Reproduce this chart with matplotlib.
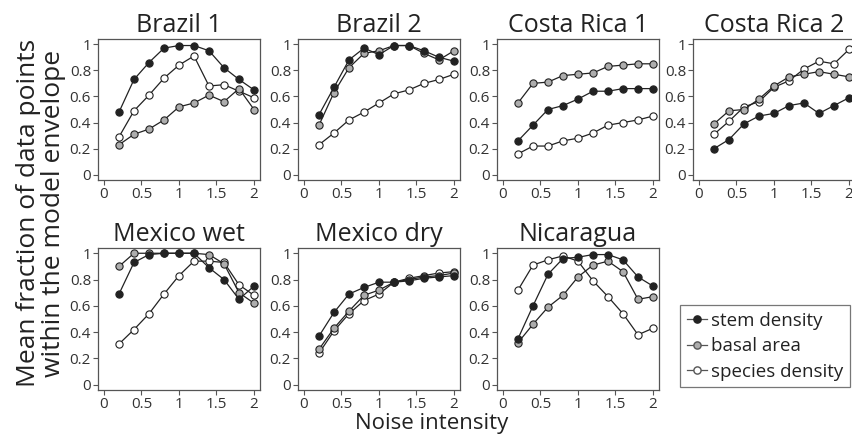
import matplotlib.pyplot as plt
import numpy as np

plt.rcParams['font.family'] = ['Open Sans', 'DejaVu Sans']

# noise intensity levels
noise = [0.2, 0.4, 0.6, 0.8, 1.0, 1.2, 1.4, 1.6, 1.8, 2.0]

sites = ["Brazil 1", "Brazil 2", "Costa Rica 1", "Costa Rica 2",
         "Mexico wet", "Mexico dry", "Nicaragua"]

stem = [
    [0.48, 0.73, 0.86, 0.97, 0.99, 0.99, 0.95, 0.82, 0.73, 0.65],
    [0.46, 0.67, 0.88, 0.97, 0.92, 0.99, 0.99, 0.95, 0.90, 0.87],
    [0.26, 0.38, 0.50, 0.53, 0.58, 0.64, 0.64, 0.66, 0.66, 0.66],
    [0.20, 0.27, 0.39, 0.45, 0.47, 0.53, 0.55, 0.47, 0.53, 0.59],
    [0.69, 0.93, 0.99, 1.00, 1.00, 1.00, 0.89, 0.80, 0.65, 0.75],
    [0.37, 0.55, 0.69, 0.74, 0.78, 0.78, 0.79, 0.81, 0.82, 0.83],
    [0.35, 0.60, 0.84, 0.96, 0.97, 0.99, 0.99, 0.95, 0.82, 0.75],
]
basal = [
    [0.23, 0.31, 0.35, 0.42, 0.52, 0.55, 0.61, 0.56, 0.66, 0.50],
    [0.38, 0.63, 0.82, 0.93, 0.95, 0.99, 0.99, 0.93, 0.88, 0.95],
    [0.55, 0.70, 0.71, 0.76, 0.77, 0.78, 0.83, 0.84, 0.85, 0.85],
    [0.39, 0.49, 0.50, 0.58, 0.68, 0.75, 0.77, 0.79, 0.77, 0.75],
    [0.90, 1.00, 1.00, 1.00, 1.00, 1.00, 0.99, 0.92, 0.70, 0.62],
    [0.27, 0.43, 0.56, 0.68, 0.72, 0.78, 0.80, 0.82, 0.83, 0.85],
    [0.32, 0.46, 0.59, 0.68, 0.82, 0.91, 0.94, 0.86, 0.65, 0.67],
]
species = [
    [0.29, 0.49, 0.61, 0.74, 0.84, 0.91, 0.68, 0.69, 0.64, 0.59],
    [0.23, 0.32, 0.42, 0.48, 0.55, 0.62, 0.65, 0.70, 0.73, 0.77],
    [0.16, 0.22, 0.22, 0.26, 0.28, 0.32, 0.38, 0.40, 0.42, 0.45],
    [0.31, 0.41, 0.52, 0.56, 0.67, 0.72, 0.81, 0.87, 0.85, 0.96],
    [0.31, 0.42, 0.54, 0.69, 0.83, 0.94, 0.94, 0.93, 0.76, 0.68],
    [0.24, 0.41, 0.54, 0.64, 0.69, 0.78, 0.81, 0.83, 0.85, 0.86],
    [0.72, 0.91, 0.95, 0.98, 0.94, 0.79, 0.67, 0.54, 0.38, 0.43],
]

W, H = 853, 443
fig = plt.figure(figsize=(W / 100, H / 100), dpi=100)

lefts = [98, 298, 497, 693]
rows = [(39, 180), (248, 390)]
frame = "#555555"
txt = "#333333"
gray = "#adadad"

for i, name in enumerate(sites):
    r, c = divmod(i, 4)
    top, bot = rows[r]
    ax = fig.add_axes([lefts[c] / W, 1 - bot / H, 162 / W, (bot - top) / H])
    for ys, fc in [(species[i], "white"), (basal[i], gray), (stem[i], "#222222")]:
        ax.plot(noise, ys, color="#222222", lw=0.9, marker="o", ms=5.2,
                mfc=fc, mec="#222222", mew=0.8)
    ax.set_xlim(-0.08, 2.08)
    ax.set_ylim(-0.04, 1.04)
    ax.set_xticks([0, 0.5, 1, 1.5, 2])
    ax.set_xticklabels(["0", "0.5", "1", "1.5", "2"])
    ax.set_yticks([0, 0.2, 0.4, 0.6, 0.8, 1])
    ax.set_yticklabels(["0", "0.2", "0.4", "0.6", "0.8", "1"])
    ax.tick_params(labelsize=11, colors=frame, labelcolor=txt, length=3.5, width=0.8, pad=1.5)
    for s in ax.spines.values():
        s.set_color(frame)
        s.set_linewidth(0.9)
    ax.set_title(name, fontsize=18, color="#222222", pad=5)

# legend
from matplotlib.lines import Line2D
handles = [
    Line2D([], [], color="#555555", lw=0.9, marker="o", ms=5.2, mfc="#222222", mec="#222222"),
    Line2D([], [], color="#555555", lw=0.9, marker="o", ms=5.2, mfc=gray, mec="#555555"),
    Line2D([], [], color="#555555", lw=0.9, marker="o", ms=5.2, mfc="white", mec="#555555"),
]
leg = fig.legend(handles, ["stem density", "basal area", "species density"],
                 loc="upper left", bbox_to_anchor=(680 / W, 1 - 305 / H),
                 fontsize=13.5, frameon=True, fancybox=False, handlelength=1.1,
                 handletextpad=0.2, labelspacing=0.4, borderpad=0.35, borderaxespad=0)
leg.get_frame().set_edgecolor("#555555")
leg.get_frame().set_linewidth(0.9)
for t in leg.get_texts():
    t.set_color("#222222")

fig.text(41 / W, 1 - 213 / H, "Mean fraction of data points\nwithin the model envelope",
         rotation=90, ha="center", va="center", fontsize=19, color="#222222",
         multialignment="center", linespacing=1.0)
fig.text(432 / W, 1 - 424 / H, "Noise intensity", ha="center", va="center",
         fontsize=16, color="#222222")

fig.savefig("out.png", dpi=100)
